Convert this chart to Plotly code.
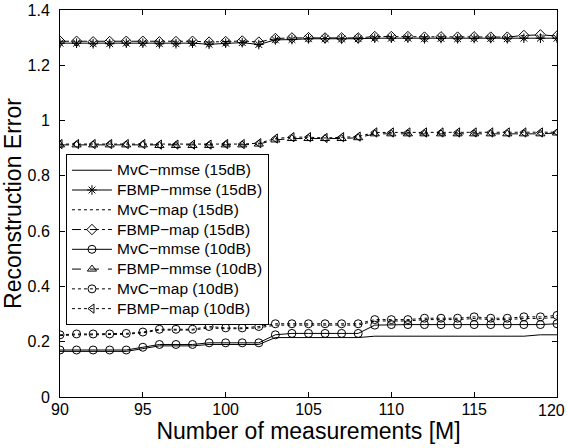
import plotly.graph_objects as go

M = list(range(90, 121))
x_ticks = [90, 95, 100, 105, 110, 115, 120]
x_ticktext = ["90", "95", "100", "105", "110", "115", ""]
last_x_label = "120"
y_ticks = [0, 0.2, 0.4, 0.6, 0.8, 1, 1.2, 1.4]
y_ticktext = ["0", "0.2", "0.4", "0.6", "0.8", "1", "1.2", "1.4"]

mvc_mmse_15 = [0.165, 0.165, 0.165, 0.165, 0.165, 0.175, 0.185, 0.185, 0.185, 0.19, 0.19,
               0.19, 0.19, 0.215, 0.215, 0.215, 0.215, 0.215, 0.215, 0.22, 0.22,
               0.22, 0.22, 0.22, 0.22, 0.22, 0.22, 0.22, 0.22, 0.225, 0.225]
fbmp_mmse_15 = [1.28, 1.28, 1.278, 1.278, 1.28, 1.28, 1.278, 1.278, 1.28, 1.276, 1.28,
                1.282, 1.275, 1.292, 1.293, 1.296, 1.296, 1.295, 1.296, 1.298, 1.298,
                1.298, 1.296, 1.297, 1.296, 1.297, 1.297, 1.296, 1.298, 1.298, 1.298]
mvc_map_15 = [0.222, 0.225, 0.225, 0.225, 0.227, 0.232, 0.242, 0.242, 0.242, 0.25, 0.247,
              0.247, 0.25, 0.26, 0.26, 0.26, 0.26, 0.26, 0.26, 0.275, 0.275,
              0.275, 0.28, 0.28, 0.28, 0.284, 0.28, 0.28, 0.284, 0.284, 0.288]
fbmp_map_15 = [1.287, 1.287, 1.285, 1.286, 1.287, 1.287, 1.285, 1.286, 1.287, 1.284, 1.286,
               1.288, 1.284, 1.297, 1.299, 1.3, 1.299, 1.299, 1.299, 1.304, 1.304,
               1.304, 1.302, 1.303, 1.302, 1.303, 1.302, 1.302, 1.308, 1.31, 1.306]
mvc_mmse_10 = [0.17, 0.17, 0.17, 0.17, 0.17, 0.18, 0.19, 0.19, 0.19, 0.196, 0.196,
               0.196, 0.196, 0.225, 0.23, 0.23, 0.23, 0.23, 0.23, 0.26, 0.262,
               0.262, 0.262, 0.262, 0.262, 0.262, 0.262, 0.262, 0.262, 0.262, 0.265]
fbmp_mmse_10 = [0.912, 0.912, 0.912, 0.912, 0.912, 0.912, 0.91, 0.91, 0.91, 0.91, 0.912,
                0.912, 0.915, 0.93, 0.935, 0.935, 0.935, 0.935, 0.938, 0.952, 0.952,
                0.952, 0.952, 0.952, 0.952, 0.952, 0.952, 0.952, 0.952, 0.952, 0.955]
mvc_map_10 = [0.225, 0.228, 0.228, 0.228, 0.23, 0.235, 0.245, 0.245, 0.245, 0.255, 0.25,
              0.25, 0.255, 0.265, 0.265, 0.265, 0.265, 0.265, 0.265, 0.28, 0.28,
              0.28, 0.285, 0.285, 0.285, 0.29, 0.285, 0.285, 0.29, 0.29, 0.295]
fbmp_map_10 = [0.915, 0.915, 0.915, 0.915, 0.915, 0.915, 0.913, 0.913, 0.913, 0.913, 0.915,
               0.915, 0.918, 0.935, 0.94, 0.94, 0.937, 0.94, 0.942, 0.957, 0.957,
               0.957, 0.957, 0.957, 0.957, 0.957, 0.957, 0.957, 0.957, 0.957, 0.958]

series = [
    ("MvC\u2212mmse (15dB)", mvc_mmse_15, "solid", None),
    ("FBMP\u2212mmse (15dB)", fbmp_mmse_15, "solid", "asterisk-open"),
    ("MvC\u2212map (15dB)", mvc_map_15, "dot", None),
    ("FBMP\u2212map (15dB)", fbmp_map_15, "dashdot", "diamond-open"),
    ("MvC\u2212mmse (10dB)", mvc_mmse_10, "solid", "circle-open"),
    ("FBMP\u2212mmse (10dB)", fbmp_mmse_10, "dash", "triangle-up-open"),
    ("MvC\u2212map (10dB)", mvc_map_10, "dot", "circle-open"),
    ("FBMP\u2212map (10dB)", fbmp_map_10, "dot", "triangle-left-open"),
]

fig = go.Figure()
for name, vals, dash, sym in series:
    fig.add_trace(go.Scatter(
        x=M, y=vals,
        name="<span style='font-size:15.5px'>" + name + "</span>",
        mode="lines+markers" if sym else "lines",
        line=dict(color="black", width=1, dash=dash),
        marker=dict(symbol=sym, size=8, color="black", line=dict(width=1, color="black")) if sym else None,
    ))

axis_common = dict(showline=True, linecolor="black", linewidth=1, mirror="allticks",
                   ticks="inside", ticklen=5, tickcolor="black", showgrid=False,
                   zeroline=False, automargin=False, ticklabeloverflow="allow",
                   tickfont=dict(size=16, color="black"))

fig.update_layout(
    width=567, height=448,
    margin=dict(l=60, r=10, t=10, b=51),
    paper_bgcolor="white", plot_bgcolor="white",
    font=dict(family="Liberation Sans, Arial", color="black"),
    xaxis=dict(range=[90, 120], tickvals=x_ticks, ticktext=x_ticktext,
               title=dict(text="Number of measurements [M]", font=dict(size=23), standoff=0),
               ticklabelstandoff=-2,
               **axis_common),
    yaxis=dict(range=[0, 1.4], tickvals=y_ticks, ticktext=y_ticktext,
               title=dict(text="Reconstruction Error", font=dict(size=23), standoff=4),
               ticklabelstandoff=6,
               **axis_common),
    legend=dict(x=0.012, y=0.627, xanchor="left", yanchor="top",
                bgcolor="white", bordercolor="black", borderwidth=1,
                font=dict(size=12.9, color="black"), tracegroupgap=0,
                itemwidth=40),
    showlegend=True,
)

fig.add_annotation(x=x_ticks[-1], xref="x", y=0, yref="paper", yanchor="top",
                   xanchor="right", xshift=10, yshift=-3, showarrow=False,
                   text=last_x_label, font=dict(size=16, color="black"))

fig.write_html("out.html", config={"displayModeBar": False},
               post_script="document.body.style.margin='0';")
